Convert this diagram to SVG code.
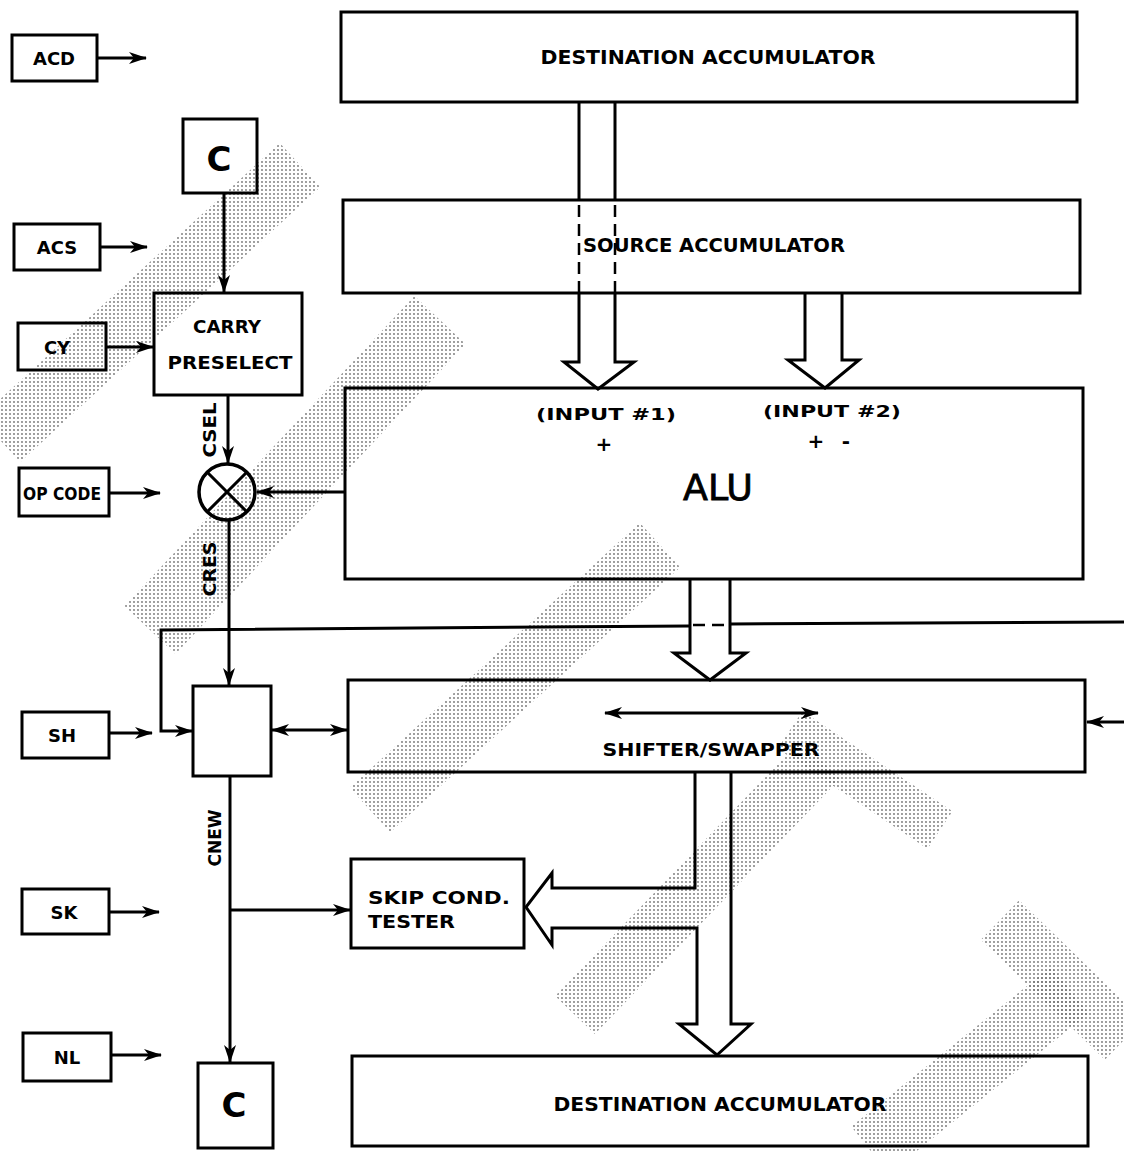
<svg xmlns="http://www.w3.org/2000/svg" width="1124" height="1151" viewBox="0 0 1124 1151">
<style>
.box{fill:none;stroke:#000;stroke-width:3}
.ln{fill:none;stroke:#000;stroke-width:3}
.dash{fill:none;stroke:#000;stroke-width:2.5;stroke-dasharray:12 7}
.t{font-family:"DejaVu Sans",sans-serif;font-weight:bold;fill:#000}
.wm{fill:none;stroke:url(#dots);stroke-linecap:butt}
</style>
<defs>
<pattern id="dots" width="4" height="4" patternUnits="userSpaceOnUse">
<circle cx="2" cy="2" r="0.9" fill="#000"/>
</pattern>
<marker id="ah" viewBox="0 0 18 12" refX="17" refY="6" markerWidth="18" markerHeight="12" markerUnits="userSpaceOnUse" orient="auto-start-reverse">
<path d="M0,0 L18,6 L0,12 L5,6 z" fill="#000"/>
</marker>
</defs>
<rect width="1124" height="1151" fill="#fff"/>
<g id="watermark" opacity="0.55">
<path class="wm" d="M0,440 L300,165" stroke-width="60"/>
<path class="wm" d="M150,630 L440,320" stroke-width="70"/>
<path class="wm" d="M370,810 L660,545" stroke-width="60"/>
<path class="wm" d="M575,1015 L820,760" stroke-width="55"/>
<path class="wm" d="M790,730 L940,830" stroke-width="45"/>
<path class="wm" d="M870,1150 L1070,990" stroke-width="60"/>
<path class="wm" d="M1000,920 L1124,1040" stroke-width="55"/>
</g>
<g id="node-acd"><rect class="box" x="12" y="35" width="85" height="46"/><text class="t" x="54" y="65" font-size="18" text-anchor="middle">ACD</text></g>
<g id="node-dest-top"><rect class="box" x="341" y="12" width="736" height="90"/><text class="t" x="708" y="64" font-size="20" text-anchor="middle" textLength="335" lengthAdjust="spacingAndGlyphs">DESTINATION ACCUMULATOR</text></g>
<g id="node-c-top"><rect class="box" x="183" y="119" width="74" height="74"/><text class="t" x="219" y="171" font-size="34" text-anchor="middle">C</text></g>
<g id="node-acs"><rect class="box" x="14" y="224" width="86" height="46"/><text class="t" x="57" y="254" font-size="18" text-anchor="middle">ACS</text></g>
<g id="node-source"><rect class="box" x="343" y="200" width="737" height="93"/><text class="t" x="583" y="252" font-size="20" textLength="262" lengthAdjust="spacingAndGlyphs">SOURCE ACCUMULATOR</text></g>
<g id="node-carry"><rect class="box" x="154" y="293" width="148" height="102"/><text class="t" x="227" y="333" font-size="18" text-anchor="middle" textLength="68" lengthAdjust="spacingAndGlyphs">CARRY</text><text class="t" x="230" y="369" font-size="18" text-anchor="middle" textLength="125" lengthAdjust="spacingAndGlyphs">PRESELECT</text></g>
<g id="node-cy"><rect class="box" x="18" y="323" width="88" height="47"/><text class="t" x="57" y="354" font-size="18" text-anchor="middle">CY</text></g>
<g id="node-alu"><rect class="box" x="345" y="388" width="738" height="191"/>
<text class="t" x="606" y="420" font-size="15" text-anchor="middle" textLength="140" lengthAdjust="spacingAndGlyphs">(INPUT #1)</text>
<text class="t" x="832" y="417" font-size="15" text-anchor="middle" textLength="138" lengthAdjust="spacingAndGlyphs">(INPUT #2)</text>
<text class="t" x="604" y="451" font-size="20" text-anchor="middle">+</text>
<text class="t" x="816" y="448" font-size="20" text-anchor="middle">+</text>
<text class="t" x="846" y="448" font-size="20" text-anchor="middle">-</text>
<text x="718" y="500" font-family="DejaVu Sans,sans-serif" font-size="36" text-anchor="middle" stroke="#000" stroke-width="0.8" textLength="70" lengthAdjust="spacingAndGlyphs">ALU</text></g>
<g id="node-opcode"><rect class="box" x="19" y="468" width="90" height="48"/><text class="t" x="62" y="500" font-size="18" text-anchor="middle" textLength="78" lengthAdjust="spacingAndGlyphs">OP CODE</text></g>
<g id="node-mux"><circle cx="227" cy="492" r="28" fill="none" stroke="#000" stroke-width="3.5"/><path class="ln" d="M207,472 L247,512 M247,472 L207,512"/></g>
<g id="node-carrybox"><rect class="box" x="193" y="686" width="78" height="90"/></g>
<g id="node-shifter"><rect class="box" x="348" y="680" width="737" height="92"/><text class="t" x="711" y="756" font-size="18" text-anchor="middle" textLength="217" lengthAdjust="spacingAndGlyphs">SHIFTER/SWAPPER</text></g>
<g id="node-sh"><rect class="box" x="22" y="712" width="87" height="46"/><text class="t" x="62" y="742" font-size="18" text-anchor="middle">SH</text></g>
<g id="node-skip"><rect class="box" x="351" y="859" width="173" height="89"/><text class="t" x="368" y="904" font-size="18" textLength="142" lengthAdjust="spacingAndGlyphs">SKIP COND.</text><text class="t" x="368" y="928" font-size="18" textLength="87" lengthAdjust="spacingAndGlyphs">TESTER</text></g>
<g id="node-sk"><rect class="box" x="22" y="889" width="87" height="45"/><text class="t" x="64" y="919" font-size="18" text-anchor="middle">SK</text></g>
<g id="node-nl"><rect class="box" x="23" y="1033" width="88" height="48"/><text class="t" x="67" y="1064" font-size="18" text-anchor="middle">NL</text></g>
<g id="node-c-bottom"><rect class="box" x="198" y="1063" width="75" height="85"/><text class="t" x="234" y="1117" font-size="34" text-anchor="middle">C</text></g>
<g id="node-dest-bottom"><rect class="box" x="352" y="1056" width="736" height="90"/><text class="t" x="720" y="1111" font-size="20" text-anchor="middle" textLength="333" lengthAdjust="spacingAndGlyphs">DESTINATION ACCUMULATOR</text></g>
<g id="connectors">
<path class="ln" d="M97,58 L146,58" marker-end="url(#ah)"/>
<path class="ln" d="M100,247 L147,247" marker-end="url(#ah)"/>
<path class="ln" d="M106,347 L153,347" marker-end="url(#ah)"/>
<path class="ln" d="M224,193 L224,292" marker-end="url(#ah)"/>
<path class="ln" d="M228,395 L228,463" marker-end="url(#ah)"/>
<path class="ln" d="M109,493 L160,493" marker-end="url(#ah)"/>
<path class="ln" d="M345,492 L257,492" marker-end="url(#ah)"/>
<path class="ln" d="M229,520 L229,685" marker-end="url(#ah)"/>
<path class="ln" d="M1124,622 L731,624 M689,626 L161,630 L161,731 L192,731" marker-end="url(#ah)"/>
<path class="dash" d="M693,625 L728,625"/>
<path class="ln" d="M109,733 L152,733" marker-end="url(#ah)"/>
<path class="ln" d="M272,730 L347,730" marker-start="url(#ah)" marker-end="url(#ah)"/>
<path class="ln" d="M605,713 L818,713" marker-start="url(#ah)" marker-end="url(#ah)"/>
<path class="ln" d="M1124,722 L1087,722" marker-end="url(#ah)"/>
<path class="ln" d="M230,776 L230,1062" marker-end="url(#ah)"/>
<path class="ln" d="M230,910 L350,910" marker-end="url(#ah)"/>
<path class="ln" d="M109,912 L159,912" marker-end="url(#ah)"/>
<path class="ln" d="M111,1055 L161,1055" marker-end="url(#ah)"/>
<path class="ln" d="M579,102 L579,200 M615,102 L615,200"/>
<path class="dash" d="M579,205 L579,293 M615,205 L615,293"/>
<path class="ln" d="M579,293 L579,362 L564,362 L598,389 L634,362 L615,362 L615,293"/>
<path class="ln" d="M805,293 L805,360 L788,360 L825,388 L859,360 L842,360 L842,293"/>
<path class="ln" d="M690,579 L690,653 L674,653 L710,680 L746,653 L730,653 L730,579"/>
<path class="ln" d="M695,772 L695,888 L552,888 L552,873 L526,907 L552,945 L552,928 L697,928 L697,1024 L679,1024 L717,1055 L751,1024 L731,1024 L731,772"/>
<text class="t" transform="translate(216,430) rotate(-90)" font-size="18" text-anchor="middle" textLength="55" lengthAdjust="spacingAndGlyphs">CSEL</text>
<text class="t" transform="translate(216,569) rotate(-90)" font-size="18" text-anchor="middle" textLength="55" lengthAdjust="spacingAndGlyphs">CRES</text>
<text class="t" transform="translate(221,838) rotate(-90)" font-size="18" text-anchor="middle" textLength="57" lengthAdjust="spacingAndGlyphs">CNEW</text>
</g>
</svg>
